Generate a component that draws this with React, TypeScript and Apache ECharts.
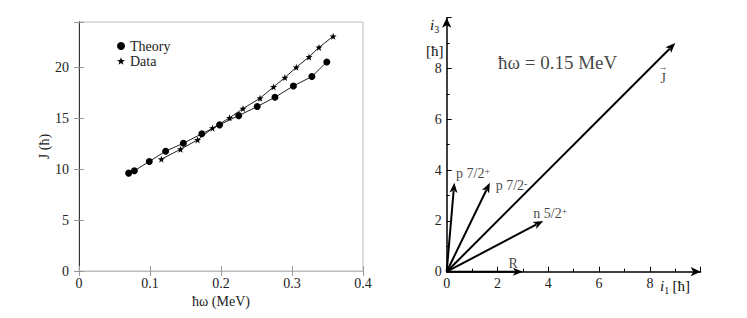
import React, { useEffect, useRef } from "react";
import * as echarts from "echarts";

// Left panel: J vs hbar-omega
const theoryX = [0.070, 0.078, 0.099, 0.122, 0.147, 0.173, 0.198, 0.225, 0.251, 0.276, 0.302, 0.328, 0.349];
const theoryY = [9.63, 9.86, 10.78, 11.79, 12.57, 13.5, 14.38, 15.29, 16.18, 17.09, 18.21, 19.13, 20.57];
const dataX = [0.116, 0.143, 0.167, 0.188, 0.212, 0.231, 0.255, 0.274, 0.290, 0.306, 0.324, 0.338, 0.358];
const dataY = [11.0, 11.98, 12.9, 14.05, 15.07, 15.98, 17.0, 18.11, 19.03, 20.04, 21.06, 22.0, 23.09];
const seriesNames = ["Theory", "Data"];

// Right panel: angular momentum vectors
const vecNames = ["J", "p 7/2+", "p 7/2-", "n 5/2+", "R"];
const vecX = [9, 0.3, 1.7, 3.8, 3];
const vecY = [9, 3.5, 3.5, 2, 0];

// Right panel annotations (data coordinates)
const annText = ["{t|p 7/2}{sup|+}", "{t|p 7/2}{sup|-}", "{t|n 5/2}{sup|+}", "{t|R}", "{big|ħω = 0.15 MeV}"];
const annX = [0.37, 1.93, 3.41, 2.43, 2.02];
const annY = [3.85, 3.41, 2.3, 0.33, 8.22];

const SERIF = "Liberation Serif";
const STAR =
  "path://M50,0 L61.8,33.8 L97.6,34.5 L69,56.2 L79.4,90.5 L50,70 L20.6,90.5 L31,56.2 L2.4,34.5 L38.2,33.8 Z";

export default function App() {
  const ref = useRef<HTMLDivElement>(null);
  useEffect(() => {
    if (!ref.current) return;
    const chart = echarts.init(ref.current, null, { renderer: "svg" });
    const tickFont = { fontFamily: SERIF, fontSize: 14, color: "#222" };
    const option: any = {
      animation: false,
      backgroundColor: "#fff",
      textStyle: { fontFamily: SERIF },
      legend: {
        orient: "vertical",
        left: 112,
        top: 34,
        itemWidth: 8,
        itemHeight: 8,
        itemGap: 1,
        textStyle: { fontFamily: SERIF, fontSize: 14, color: "#222" },
        data: [
          { name: seriesNames[0], icon: "circle" },
          { name: seriesNames[1], icon: STAR },
        ],
      },
      grid: [
        { left: 79, top: 22, width: 284, height: 249, show: true, borderColor: "#bbb", borderWidth: 1, backgroundColor: "transparent" },
        { left: 446.7, top: 17.7, width: 254, height: 254 },
      ],
      xAxis: [
        {
          gridIndex: 0, type: "value", min: 0, max: 0.4, interval: 0.1, position: "bottom",
          axisLine: { show: true, lineStyle: { color: "#333", width: 1 } },
          axisTick: { show: true, inside: true, length: 5, lineStyle: { color: "#999" } },
          axisLabel: { ...tickFont, margin: 5 },
          splitLine: { show: false },
          name: "ħω (MeV)", nameLocation: "middle", nameGap: 18,
          nameTextStyle: { fontFamily: SERIF, fontSize: 14, color: "#222" },
        },
        {
          gridIndex: 0, type: "value", min: 0, max: 0.4, interval: 0.1, position: "top",
          axisLine: { show: true, lineStyle: { color: "#bbb", width: 1 } },
          axisTick: { show: true, inside: true, length: 5, lineStyle: { color: "#999" } },
          axisLabel: { show: false }, splitLine: { show: false },
        },
        {
          gridIndex: 1, type: "value", min: 0, max: 10, interval: 2,
          axisLine: { show: true, symbol: ["none", "arrow"], symbolSize: [7, 10], lineStyle: { color: "#000", width: 1.5 } },
          axisTick: { show: true, inside: true, length: 5, lineStyle: { color: "#000" } },
          minorTick: { show: true, splitNumber: 2, length: 3, lineStyle: { color: "#000" } },
          axisLabel: { ...tickFont, margin: 5, formatter: (v: number) => (v >= 10 ? "" : String(v)) },
          splitLine: { show: false },
        },
      ],
      yAxis: [
        {
          gridIndex: 0, type: "value", min: 0, max: 24.5, interval: 5, position: "left",
          axisLine: { show: true, lineStyle: { color: "#333", width: 1 } },
          axisTick: { show: true, inside: true, length: 5, lineStyle: { color: "#999" } },
          axisLabel: { ...tickFont, margin: 10, formatter: (v: number) => (v % 5 === 0 ? String(v) : "") },
          splitLine: { show: false },
          name: "J (ħ)", nameLocation: "middle", nameGap: 24, nameRotate: 90,
          nameTextStyle: { fontFamily: SERIF, fontSize: 14, color: "#222" },
        },
        {
          gridIndex: 0, type: "value", min: 0, max: 24.5, interval: 5, position: "right",
          axisLine: { show: true, lineStyle: { color: "#333", width: 1 } },
          axisTick: { show: true, inside: true, length: 5, lineStyle: { color: "#999" } },
          axisLabel: { show: false }, splitLine: { show: false },
        },
        {
          gridIndex: 1, type: "value", min: 0, max: 10, interval: 2,
          axisLine: { show: true, symbol: ["none", "arrow"], symbolSize: [7, 10], lineStyle: { color: "#000", width: 1.5 } },
          axisTick: { show: true, inside: true, length: 5, lineStyle: { color: "#000" } },
          minorTick: { show: true, splitNumber: 2, length: 3, lineStyle: { color: "#000" } },
          axisLabel: { ...tickFont, margin: 5, formatter: (v: number) => (v >= 10 ? "" : String(v)) },
          splitLine: { show: false },
        },
      ],
      series: [
        {
          name: seriesNames[0], type: "line", xAxisIndex: 0, yAxisIndex: 0,
          data: theoryX.map((x, i) => [x, theoryY[i]]),
          symbol: "circle", symbolSize: 7,
          itemStyle: { color: "#000" }, lineStyle: { color: "#222", width: 1 },
        },
        {
          name: seriesNames[1], type: "line", xAxisIndex: 0, yAxisIndex: 0,
          data: dataX.map((x, i) => [x, dataY[i]]),
          symbol: STAR, symbolSize: 7,
          itemStyle: { color: "#000" }, lineStyle: { color: "#222", width: 1 },
        },
        {
          type: "custom", xAxisIndex: 2, yAxisIndex: 2, silent: true, z: 5, clip: false,
          data: vecNames.map((n, i) => [vecX[i], vecY[i]]),
          renderItem: (params: any, api: any) => {
            const o = api.coord([0, 0]);
            const e = api.coord([api.value(0), api.value(1)]);
            const dx = e[0] - o[0];
            const dy = e[1] - o[1];
            const len = Math.sqrt(dx * dx + dy * dy) || 1;
            const ux = dx / len, uy = dy / len;
            const hl = 10, hw = 4;
            const bx = e[0] - ux * hl, by = e[1] - uy * hl;
            const nx = -uy, ny = ux;
            return {
              type: "group",
              children: [
                {
                  type: "line",
                  shape: { x1: o[0], y1: o[1], x2: bx + ux * 2, y2: by + uy * 2 },
                  style: { stroke: "#000", lineWidth: 2 },
                },
                {
                  type: "polygon",
                  shape: {
                    points: [
                      [e[0], e[1]],
                      [bx + nx * hw, by + ny * hw],
                      [bx + ux * 2.5, by + uy * 2.5],
                      [bx - nx * hw, by - ny * hw],
                    ],
                  },
                  style: { fill: "#000" },
                },
              ],
            };
          },
        },
        {
          type: "scatter", xAxisIndex: 2, yAxisIndex: 2, symbolSize: 0, silent: true,
          data: annText.map((t, i) => ({ value: [annX[i], annY[i]], name: t })),
          label: {
            show: true, position: "right", distance: 0,
            formatter: (p: any) => p.name,
            rich: {
              t: { fontFamily: SERIF, fontSize: 14, color: "#111" },
              sup: { fontFamily: SERIF, fontSize: 10, color: "#111", verticalAlign: "top" },
              big: { fontFamily: SERIF, fontSize: 19, color: "#111" },
            },
          },
        },
        {
          type: "scatter", xAxisIndex: 2, yAxisIndex: 2, symbolSize: 0, silent: true,
          data: [{ value: [vecX[0] - 0.48, vecY[0] - 1.25], name: vecNames[0] }],
          label: {
            show: true, position: "inside", align: "center",
            formatter: "{a|→}\n{j|J}",
            rich: {
              a: { fontFamily: SERIF, fontSize: 9, lineHeight: 8, color: "#111", align: "center" },
              j: { fontFamily: SERIF, fontSize: 14, lineHeight: 16, color: "#111", align: "center" },
            },
          },
        },
      ],
      graphic: [
        {
          type: "text", left: 430, top: 17,
          style: {
            text: "{i|i}{s|3}",
            rich: {
              i: { fontFamily: SERIF, fontSize: 15, fontStyle: "italic", fill: "#111" },
              s: { fontFamily: SERIF, fontSize: 10, fill: "#111", padding: [10, 0, 0, 0] },
            },
          },
        },
        { type: "text", left: 426, top: 43, style: { text: "[ħ]", font: `15px ${SERIF}`, fill: "#111" } },
        {
          type: "text", left: 660, top: 278,
          style: {
            text: "{i|i}{s|1} {n|[ħ]}",
            rich: {
              i: { fontFamily: SERIF, fontSize: 15, fontStyle: "italic", fill: "#111" },
              s: { fontFamily: SERIF, fontSize: 10, fill: "#111", padding: [10, 0, 0, 0] },
              n: { fontFamily: SERIF, fontSize: 15, fill: "#111" },
            },
          },
        },
      ],
    };
    chart.setOption(option);
    return () => chart.dispose();
  }, []);
  return <div ref={ref} style={{ position: "fixed", left: 0, top: 0, width: 747, height: 318 }} />;
}
